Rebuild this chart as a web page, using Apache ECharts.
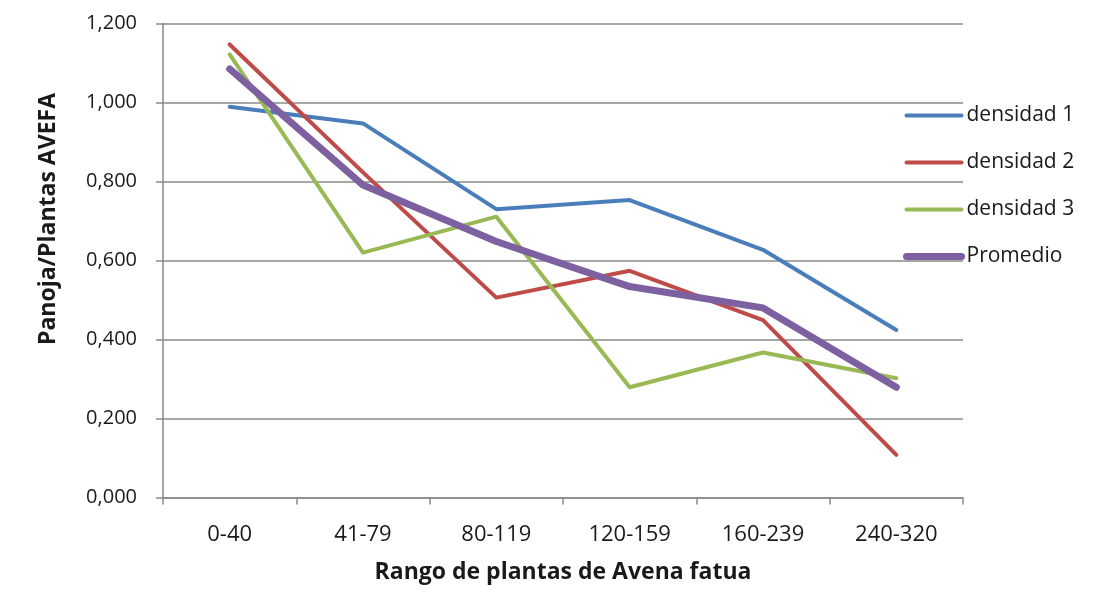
<!DOCTYPE html>
<html>
<head>
<meta charset="utf-8">
<script src="https://cdn.jsdelivr.net/npm/echarts@6/dist/echarts.min.js"></script>
<style>
html,body{margin:0;padding:0;background:#fff;}
#chart{width:1098px;height:592px;}
</style>
</head>
<body>
<div id="chart"></div>
<script>
const categories = ['0-40', '41-79', '80-119', '120-159', '160-239', '240-320'];
const densidad1 = [0.989, 0.947, 0.730, 0.753, 0.627, 0.424];
const densidad2 = [1.147, 0.823, 0.506, 0.574, 0.449, 0.108];
const densidad3 = [1.122, 0.620, 0.711, 0.279, 0.367, 0.302];
const promedio  = [1.085, 0.791, 0.648, 0.534, 0.480, 0.279];
const seriesNames = ['densidad 1', 'densidad 2', 'densidad 3', 'Promedio'];
const yTicks = [0, 0.2, 0.4, 0.6, 0.8, 1.0, 1.2];

const FONT = '"Open Sans", "Noto Sans", sans-serif';
const colors = ['#4A7EBB', '#BE4B48', '#98B954', '#7D60A0'];
const widths = [4, 4, 4, 7];
const dataSets = [densidad1, densidad2, densidad3, promedio];

const chart = echarts.init(document.getElementById('chart'));
chart.setOption({
  animation: false,
  backgroundColor: '#ffffff',
  grid: { left: 163, right: 135, top: 23.5, bottom: 94.5, containLabel: false },
  legend: {
    orient: 'vertical',
    left: 903,
    top: 105,
    padding: 0,
    itemWidth: 55,
    itemHeight: 20,
    itemGap: 26,
    textStyle: { fontFamily: FONT, fontSize: 21, color: '#1a1a1a' },
    data: seriesNames.map((n, i) => ({
      name: n,
      itemStyle: { opacity: 0, borderWidth: 0 },
      lineStyle: { width: widths[i], cap: 'round', opacity: 1 }
    }))
  },
  graphic: [{
    type: 'text',
    left: 37,
    top: 93,
    rotation: Math.PI / 2,
    style: {
      text: 'Panoja/Plantas AVEFA',
      font: 'bold 23px ' + FONT,
      fill: '#1a1a1a'
    }
  }],
  xAxis: {
    type: 'category',
    data: categories,
    boundaryGap: true,
    name: 'Rango de plantas de Avena fatua',
    nameLocation: 'middle',
    nameGap: 63,
    nameTextStyle: { fontFamily: FONT, fontSize: 23, fontWeight: 'bold', color: '#1a1a1a' },
    axisLine: { show: true, lineStyle: { color: '#8a8a8a', width: 1.5 } },
    axisTick: { show: true, alignWithLabel: false, length: 7, lineStyle: { color: '#8a8a8a', width: 1.5 } },
    axisLabel: { fontFamily: FONT, fontSize: 22, color: '#1a1a1a', margin: 26 },
    splitLine: { show: false }
  },
  yAxis: {
    type: 'value',
    min: 0,
    max: 1.2,
    interval: 0.2,
    axisLine: { show: true, lineStyle: { color: '#8a8a8a', width: 1.5 } },
    axisTick: { show: true, length: 7, lineStyle: { color: '#8a8a8a', width: 1.5 } },
    axisLabel: {
      fontFamily: FONT, fontSize: 20, color: '#1a1a1a', margin: 26,
      formatter: v => {
        const t = yTicks.find(x => Math.abs(x - v) < 1e-6);
        return (t !== undefined ? t : v).toFixed(3).replace('.', ',');
      }
    },
    splitLine: { show: true, lineStyle: { color: '#8a8a8a', width: 1.5 } }
  },
  series: seriesNames.map((n, i) => ({
    name: n,
    type: 'line',
    data: dataSets[i],
    symbol: 'none',
    showSymbol: false,
    color: colors[i],
    lineStyle: { color: colors[i], width: widths[i], cap: 'round', join: 'round' },
    z: 2 + i
  }))
});
</script>
</body>
</html>
